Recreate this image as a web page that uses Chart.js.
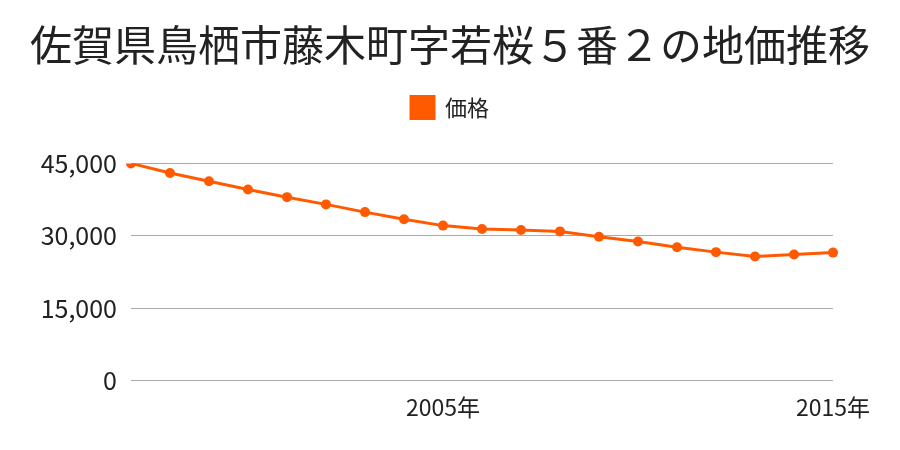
<!DOCTYPE html>
<html>
<head>
<meta charset="utf-8">
<script src="https://cdn.jsdelivr.net/npm/chart.js@4"></script>
<style>
  body { margin: 0; background: #fff; }
  #wrap { width: 900px; height: 450px; }
</style>
</head>
<body>
<div id="wrap"><canvas id="myChart" width="900" height="450"></canvas></div>
<script>
var years = ['1997', '1998', '1999', '2000', '2001', '2002', '2003', '2004', '2005', '2006',
             '2007', '2008', '2009', '2010', '2011', '2012', '2013', '2014', '2015'];
var prices = [45000, 43000, 41300, 39600, 38000, 36500, 34900, 33400, 32100, 31400,
              31200, 30900, 29800, 28800, 27600, 26600, 25700, 26100, 26500];
var shownYears = ['2005', '2015'];
var yTicks = [0, 15000, 30000, 45000];

var font = '"Noto Sans CJK JP", "Noto Sans", sans-serif';
var orange = '#ff5a00';

// push the plot area down below the legend
var legendGap = {
    id: 'legendGap',
    beforeInit: function (chart) {
        var orig = chart.legend.fit;
        chart.legend.fit = function () {
            orig.bind(chart.legend)();
            this.height += 35;
        };
    }
};

var ctx = document.getElementById('myChart').getContext('2d');
var myChart = new Chart(ctx, {
    type: 'line',
    data: {
        labels: years,
        datasets: [{
            label: '価格',
            data: prices,
            borderColor: orange,
            backgroundColor: orange,
            borderWidth: 3,
            pointRadius: 5,
            pointHoverRadius: 5,
            pointBackgroundColor: orange,
            pointBorderWidth: 0,
            tension: 0
        }]
    },
    plugins: [legendGap],
    options: {
        responsive: false,
        animation: false,
        layout: { padding: { left: 0, right: 0, top: 0, bottom: 24 } },
        plugins: {
            title: {
                display: true,
                text: '佐賀県鳥栖市藤木町字若桜５番２の地価推移',
                color: '#222',
                font: { family: font, size: 42, weight: 'normal' },
                padding: { top: 20, bottom: 16 }
            },
            legend: {
                display: true,
                labels: {
                    color: '#222',
                    font: { family: font, size: 22 },
                    boxWidth: 23,
                    boxHeight: 22,
                    padding: 10
                }
            },
            tooltip: { enabled: false }
        },
        scales: {
            x: {
                offset: false,
                grid: { display: false },
                border: { display: false },
                ticks: {
                    color: '#222',
                    font: { family: font, size: 23 },
                    autoSkip: false,
                    maxRotation: 0,
                    padding: 5,
                    callback: function (value, index) {
                        var y = years[index];
                        return shownYears.indexOf(y) >= 0 ? y + '年' : '';
                    }
                }
            },
            y: {
                min: 0,
                max: 45000,
                afterBuildTicks: function (axis) {
                    axis.ticks = yTicks.map(function (v) { return { value: v }; });
                },
                afterFit: function (axis) { axis.width = 131; },
                grid: { color: '#aaaaaa', lineWidth: 1, drawTicks: false },
                border: { display: false },
                ticks: {
                    color: '#222',
                    font: { family: font, size: 25 },
                    padding: 14,
                    callback: function (value) { return value.toLocaleString('en-US'); }
                }
            },
            // empty right-hand axis only to hold the right margin
            yRight: {
                position: 'right',
                display: true,
                min: 0,
                max: 45000,
                afterFit: function (axis) { axis.width = 67; },
                grid: { display: false },
                border: { display: false },
                ticks: { display: false }
            }
        }
    }
});
</script>
</body>
</html>
